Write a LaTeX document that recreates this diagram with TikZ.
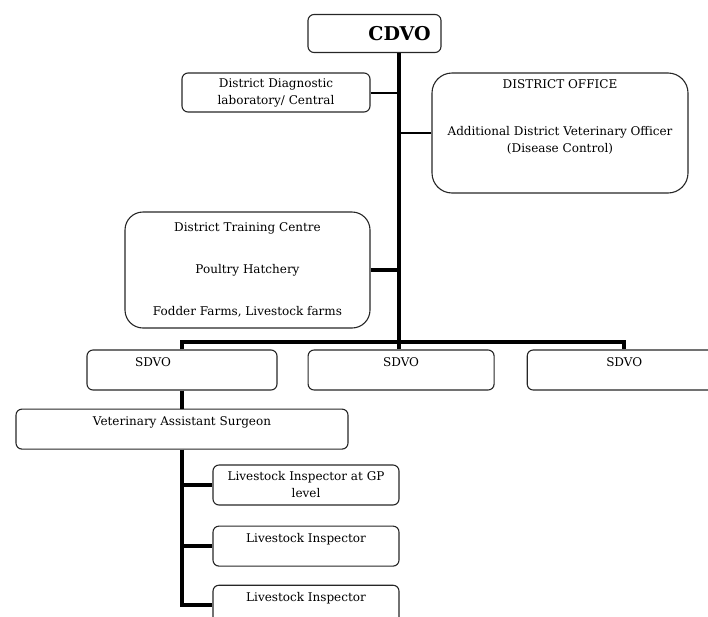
\documentclass[tikz,border=0pt]{standalone}
\usepackage{fontspec}
\setmainfont{DejaVu Serif}
\usetikzlibrary{positioning}

\begin{document}
\begin{tikzpicture}[x=1pt,y=-1pt,node distance=20pt,
  font=\fontsize{12}{17}\selectfont,
  box/.style={draw=black!85,line width=1.1pt,rounded corners=6pt,align=center,inner sep=2pt,minimum height=40pt},
  big box/.style={box,rounded corners=18pt},
  top text/.style={text height=9pt,text depth=16pt},
  link/.style={line width=4pt},
  thin link/.style={line width=2pt}]
   \useasboundingbox (0,0) rectangle (708,616);
   % head office
   \node[box,minimum width=133pt,minimum height=38pt,font=\fontsize{19}{22}\bfseries\selectfont] (cdvo) at (374.5,33.5) {\hspace*{50pt}CDVO};
   \node[box,minimum width=188pt,minimum height=39pt] (lab) at (276,92.5) {District Diagnostic\\laboratory/ Central};
   \node[big box,rounded corners=20pt,minimum width=256pt,minimum height=120pt] (office) at (560,133)
     {DISTRICT OFFICE\\[30pt]Additional District Veterinary Officer\\(Disease Control)\\[17pt]\mbox{}};
   \node[big box,minimum width=245pt,minimum height=116pt] (train) at (247.5,270)
     {District Training Centre\\[25pt]Poultry Hatchery\\[25pt]Fodder Farms, Livestock farms};
   % sub divisions
   \node[box,top text,minimum width=190pt] (sdvo1) at (182,370) {SDVO\hspace*{58pt}};
   \node[box,top text,minimum width=186pt] (sdvo2) [right=30pt of sdvo1] {SDVO};
   \node[box,top text,minimum width=194pt] (sdvo3) [right=32pt of sdvo2] {SDVO};
   \node[box,top text,minimum width=332pt] (vas)   [below=18pt of sdvo1] {Veterinary Assistant Surgeon};
   \node[box,minimum width=186pt]          (li1)   at (306,485) {Livestock Inspector at GP\\level};
   \node[box,top text,minimum width=186pt] (li2)   [below=20pt of li1] {Livestock Inspector};
   \node[box,top text,minimum width=186pt] (li3)   [below=18pt of li2] {Livestock Inspector};

   \coordinate (bus) at (399,342);
   \draw[link] (cdvo.south -| bus) -- (sdvo2.north -| bus);
   \draw[thin link] (lab) -- (lab -| bus);
   \draw[thin link] (office) -- (office -| bus);
   \draw[link] (train) -- (train -| bus);
   \draw[link] (sdvo1.north) |- (bus) -| (sdvo3.north);
   \draw[link] (sdvo1) -- (vas);
   \draw[link] (vas.south) |- (li3);
   \foreach \n in {li1,li2}
     \draw[link] (\n -| vas.south) -- (\n);
\end{tikzpicture}
\end{document}
